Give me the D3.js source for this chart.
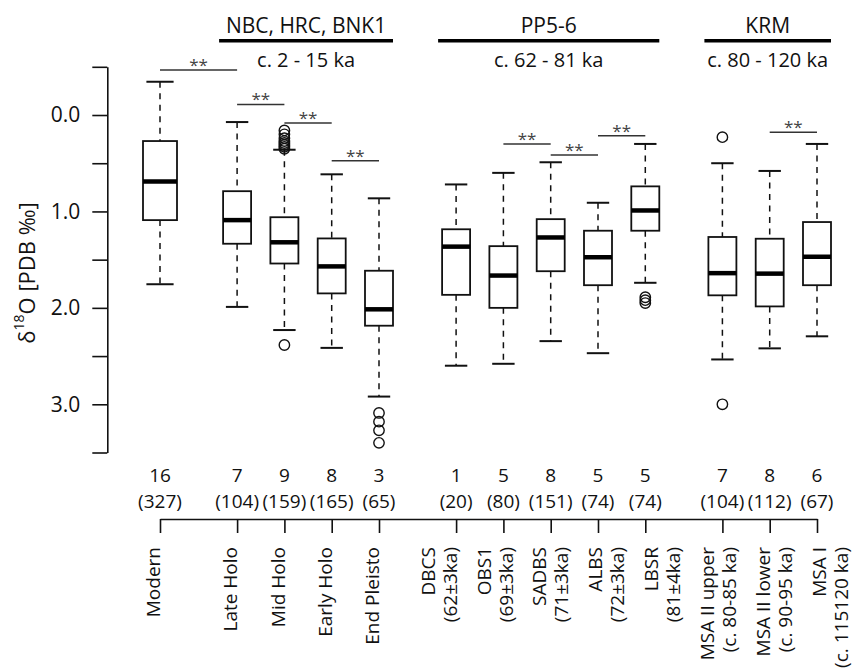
<!DOCTYPE html>
<html>
<head>
<meta charset="utf-8">
<script src="https://cdn.jsdelivr.net/npm/d3@7"></script>
<style>
  html, body { margin: 0; padding: 0; background: #fff; }
  svg { display: block; }
  text { font-family: "Open Sans", "Noto Sans", sans-serif; fill: #111; }
</style>
</head>
<body>
<div id="chart"></div>
<script>
// ---------------- data ----------------
const categories = ["Modern", "Late Holo", "Mid Holo", "Early Holo", "End Pleisto",
  "DBCS\n(62±3ka)", "OBS1\n(69±3ka)", "SADBS\n(71±3ka)", "ALBS\n(72±3ka)", "LBSR\n(81±4ka)",
  "MSA II upper\n(c. 80-85 ka)", "MSA II lower\n(c. 90-95 ka)", "MSA I\n(c. 115120 ka)"];
const siteGroup   = [0, 1, 1, 1, 1, 2, 2, 2, 2, 2, 3, 3, 3];
const individuals = [16, 7, 9, 8, 3, 1, 5, 8, 5, 5, 7, 8, 6];
const samples     = [327, 104, 159, 165, 65, 20, 80, 151, 74, 74, 104, 112, 67];

const whiskerLow  = [-0.345, 0.073, 0.36, 0.615, 0.864, 0.72, 0.60, 0.49, 0.91, 0.30, 0.50, 0.58, 0.30];
const q1          = [0.27, 0.79, 1.06, 1.28, 1.615, 1.185, 1.36, 1.08, 1.20, 0.74, 1.265, 1.283, 1.11];
const medians     = [0.69, 1.09, 1.32, 1.57, 2.015, 1.365, 1.665, 1.27, 1.475, 0.99, 1.64, 1.645, 1.47];
const q3          = [1.09, 1.335, 1.54, 1.85, 2.185, 1.865, 2.0, 1.62, 1.765, 1.20, 1.87, 1.985, 1.765];
const whiskerHigh = [1.755, 1.99, 2.23, 2.415, 2.92, 2.60, 2.58, 2.345, 2.47, 1.74, 2.535, 2.42, 2.295];
const outliers    = [[], [], [0.16, 0.20, 0.24, 0.27, 0.29, 0.31, 0.33, 0.35, 2.385], [],
  [3.09, 3.18, 3.27, 3.40], [], [], [], [], [1.89, 1.92, 1.95], [0.23, 3.0], [], []];

const yTicks = [-0.5, 0, 0.5, 1, 1.5, 2, 2.5, 3, 3.5];

// significance: [from index, to index, level (δ18O units)]
const sigFrom  = [0, 1, 2, 3, 6, 7, 8, 11];
const sigTo    = [1, 2, 3, 4, 7, 8, 9, 12];
const sigLevel = [-0.467, -0.11, 0.083, 0.474, 0.30, 0.415, 0.215, 0.18];
const sigMark  = "**";

const headerNames   = ["NBC, HRC, BNK1", "PP5-6", "KRM"];
const headerPeriods = ["c. 2 - 15 ka", "c. 62 - 81 ka", "c. 80 - 120 ka"];
const headerFirst   = [1, 5, 10];
const headerLast    = [4, 9, 12];

// ---------------- layout ----------------
const W = 853, H = 668;
const GAP = 0.63;
const slot = i => i + GAP * siteGroup[i];
const nCat = categories.length;

const x = d3.scaleLinear().domain([0, slot(nCat - 1)]).range([160, 817]);
const y = d3.scaleLinear().domain([-0.5, 3.5]).range([66.8, 452.5]);

const svg = d3.select("#chart").append("svg").attr("width", W).attr("height", H);

// y axis
const yAxisG = svg.append("g").attr("transform", "translate(107.3,0)")
  .call(d3.axisLeft(y).tickValues(yTicks).tickSize(15).tickSizeOuter(0).tickPadding(12)
    .tickFormat(d => Number.isInteger(d) ? d.toFixed(1) : ""));
yAxisG.selectAll("path, line").attr("stroke", "#111").attr("stroke-width", 1.6);
yAxisG.selectAll("text").attr("font-size", 21).attr("font-family", "Open Sans").attr("fill", "#111");

// y label
const yl = svg.append("text")
  .attr("transform", "translate(27,273) rotate(-90)")
  .attr("text-anchor", "middle").attr("dy", "0.35em").attr("font-size", 22);
yl.append("tspan").text("δ");
yl.append("tspan").attr("font-size", 14).attr("dy", "-0.75em").text("18");
yl.append("tspan").attr("dy", "0.48em").text("O [PDB ‰]");

// bottom axis
const xAxisG = svg.append("g").attr("transform", "translate(0,519)")
  .call(d3.axisBottom(x).tickValues(d3.range(nCat).map(slot)).tickSize(14).tickSizeOuter(0).tickFormat(""));
xAxisG.selectAll("path, line").attr("stroke", "#111").attr("stroke-width", 1.6);

// counts
const cnt = svg.append("g");
cnt.selectAll("text.ind").data(individuals).join("text").attr("class", "ind")
  .attr("x", (d, i) => x(slot(i))).attr("y", 475).attr("dy", "0.35em")
  .attr("text-anchor", "middle").attr("font-size", 19).text(d => d);
cnt.selectAll("text.smp").data(samples).join("text").attr("class", "smp")
  .attr("x", (d, i) => x(slot(i))).attr("y", 501).attr("dy", "0.35em")
  .attr("text-anchor", "middle").attr("font-size", 19).text(d => "(" + d + ")");

// category labels (rotated)
const firstTwo = categories.findIndex(c => c.includes("\n"));
const twoStart = x(slot(firstTwo)) - 6, twoEnd = x(slot(nCat - 1)) + 24;
const labG = svg.append("g");
categories.forEach((c, i) => {
  const lines = c.split("\n");
  let lastCenter;
  if (lines.length === 1) lastCenter = x(slot(i)) - 6.5;
  else lastCenter = twoStart + (twoEnd - twoStart) * (i - firstTwo) / (nCat - 1 - firstTwo);
  lines.forEach((ln, k) => {
    const cx = lastCenter - 22 * (lines.length - 1 - k);
    labG.append("text")
      .attr("transform", `translate(${cx},547) rotate(-90)`)
      .attr("text-anchor", "end").attr("dy", "0.35em").attr("font-size", 19).text(ln);
  });
});

// boxes
const boxG = svg.append("g");
categories.forEach((c, i) => {
  const xc = x(slot(i));
  const w = i === 0 ? 34 : 28;
  const cw = w * 0.8;
  const g = boxG.append("g");
  // whiskers
  g.append("line").attr("x1", xc).attr("x2", xc).attr("y1", y(whiskerLow[i])).attr("y2", y(q1[i]))
    .attr("stroke", "#111").attr("stroke-width", 1.5).attr("stroke-dasharray", "6,5.5");
  g.append("line").attr("x1", xc).attr("x2", xc).attr("y1", y(q3[i])).attr("y2", y(whiskerHigh[i]))
    .attr("stroke", "#111").attr("stroke-width", 1.5).attr("stroke-dasharray", "6,5.5");
  [whiskerLow[i], whiskerHigh[i]].forEach(v => {
    g.append("line").attr("x1", xc - cw / 2).attr("x2", xc + cw / 2).attr("y1", y(v)).attr("y2", y(v))
      .attr("stroke", "#111").attr("stroke-width", 2);
  });
  g.append("rect").attr("x", xc - w / 2).attr("y", y(q1[i])).attr("width", w)
    .attr("height", y(q3[i]) - y(q1[i])).attr("fill", "#fff").attr("stroke", "#111").attr("stroke-width", 1.8);
  g.append("line").attr("x1", xc - w / 2).attr("x2", xc + w / 2).attr("y1", y(medians[i])).attr("y2", y(medians[i]))
    .attr("stroke", "#000").attr("stroke-width", 4.5);
  g.selectAll("circle").data(outliers[i]).join("circle")
    .attr("cx", xc).attr("cy", d => y(d)).attr("r", 5.2)
    .attr("fill", "none").attr("stroke", "#111").attr("stroke-width", 1.4);
});

// significance bars
const sigG = svg.append("g");
sigFrom.forEach((a, k) => {
  const x1 = x(slot(a)), x2 = x(slot(sigTo[k])), yy = y(sigLevel[k]);
  sigG.append("line").attr("x1", x1).attr("x2", x2).attr("y1", yy).attr("y2", yy)
    .attr("stroke", "#333").attr("stroke-width", 1.5);
  sigG.append("text").attr("x", (x1 + x2) / 2).attr("y", yy + 1)
    .attr("text-anchor", "middle").attr("font-size", 17).attr("fill", "#444").style("fill", "#444").text(sigMark);
});

// headers
const hG = svg.append("g");
headerNames.forEach((nm, k) => {
  const xa = x(slot(headerFirst[k])) - 18, xb = x(slot(headerLast[k])) + 14;
  const xm = (xa + xb) / 2;
  hG.append("line").attr("x1", xa).attr("x2", xb).attr("y1", 40.7).attr("y2", 40.7)
    .attr("stroke", "#000").attr("stroke-width", 3.5);
  hG.append("text").attr("x", xm).attr("y", 32.7).attr("text-anchor", "middle").attr("font-size", 21).text(nm);
  hG.append("text").attr("x", xm).attr("y", 66.5).attr("text-anchor", "middle").attr("font-size", 20).text(headerPeriods[k]);
});
</script>
</body>
</html>
